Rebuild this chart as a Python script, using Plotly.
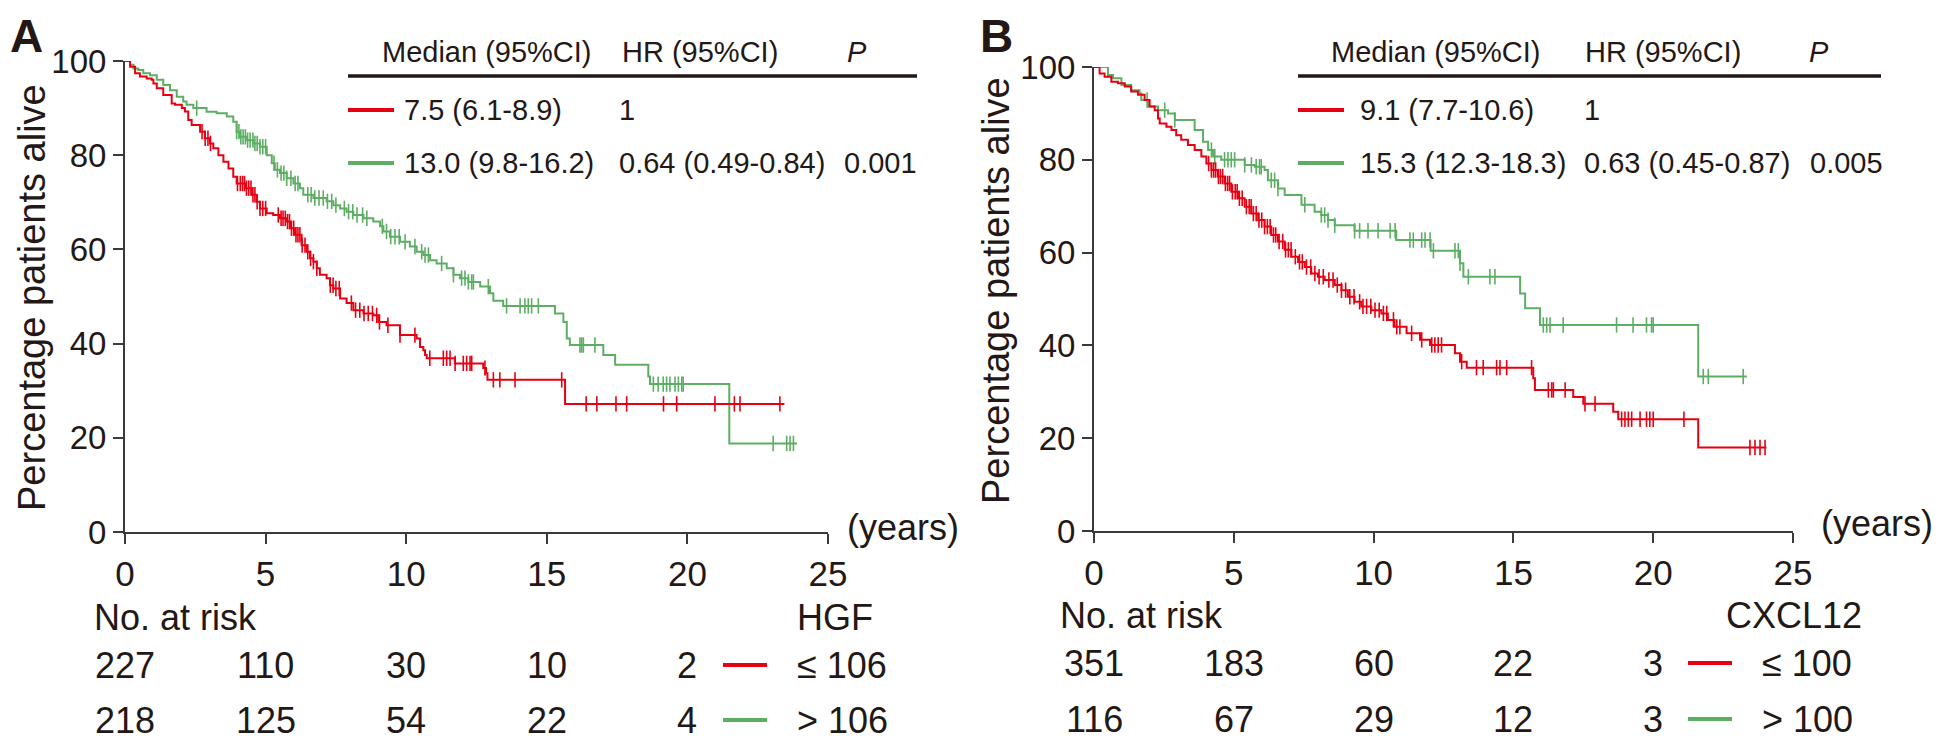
import numpy as np
import plotly.graph_objects as go

# page is 1946x742; the html body has an 8px margin, so the figure is drawn 8px in
PAGE_W, PAGE_H = 1946, 742
OFF = 8
W, H = PAGE_W - OFF, PAGE_H - OFF
RED = '#E60012'
GREEN = '#5DAE64'
INK = '#231815'
AXIS = '#3a3a3a'
FONT = 'Liberation Sans, Arial, sans-serif'

# ---- Panel A: HGF (survival %, step at each time) ----
hgf_low_t = [0, 0.18, 0.36, 0.53, 0.77, 0.95, 1.01, 1.13, 1.36, 1.66, 1.78, 2.02, 2.13, 2.25, 2.37, 2.67,
             2.84, 3.02, 3.14, 3.32, 3.50, 3.68, 3.85, 3.97, 4.27, 4.51, 4.68, 4.80, 5.04, 5.27, 5.51, 5.75,
             5.87, 6.04, 6.28, 6.46, 6.58, 6.70, 6.82, 6.93, 7.17, 7.29, 7.41, 7.65, 7.88, 8.12, 8.48, 8.83,
             9.01, 9.30, 9.78, 10.37, 10.49, 10.61, 10.67, 10.73, 11.73, 12.74, 12.84, 12.89, 15.65]
hgf_low_s = [100, 98.8, 97.4, 96.7, 96.3, 96.0, 95.2, 94.2, 92.8, 91.0, 90.7, 90.0, 89.3, 87.5, 86.4, 85.0,
             83.6, 82.5, 81.5, 80.0, 78.6, 77.2, 75.4, 74.0, 73.0, 71.6, 70.1, 68.7, 67.7, 67.3, 66.6, 65.9,
             64.5, 63.1, 60.9, 59.5, 58.1, 57.4, 56.0, 54.6, 53.9, 52.4, 51.7, 49.6, 48.6, 47.1, 46.4, 46.0,
             44.6, 43.9, 41.8, 41.1, 39.3, 38.6, 37.6, 36.9, 35.8, 34.8, 33.7, 32.3, 27.2]
hgf_low_end = 23.45
hgf_low_cens = [2.74, 2.85, 2.95, 3.04, 4.0, 4.1, 4.18, 4.25, 4.32, 4.40, 4.48, 4.55, 4.62, 4.70, 4.80, 4.90,
                5.0, 5.45, 5.55, 5.62, 5.70, 5.78, 5.85, 5.92, 6.00, 6.08, 6.15, 6.22, 6.30, 6.40, 6.50, 6.60,
                6.70, 6.82, 7.30, 7.40, 7.50, 7.62, 8.05, 8.20, 8.35, 8.50, 8.65, 8.80, 8.95, 9.05, 9.35, 9.78,
                10.31, 10.84, 11.32, 11.44, 11.56, 11.74, 12.03, 12.15, 12.27, 12.33, 12.80, 13.10, 13.33,
                13.87, 15.53, 16.40, 16.78, 17.46, 17.84, 19.15, 19.62, 20.98, 21.67, 21.87, 23.29]

hgf_high_t = [0, 0.18, 0.30, 0.47, 0.65, 0.89, 1.13, 1.36, 1.60, 1.84, 2.07, 2.19, 2.43, 2.90, 3.26, 3.62,
              3.85, 3.97, 4.09, 4.33, 4.56, 4.80, 5.04, 5.22, 5.33, 5.51, 5.75, 5.99, 6.22, 6.34, 6.70, 7.17,
              7.41, 7.65, 7.88, 8.12, 8.48, 8.83, 9.07, 9.19, 9.42, 9.78, 10.13, 10.37, 10.61, 10.85, 11.08,
              11.44, 11.68, 11.91, 12.21, 12.63, 12.98, 13.10, 13.45, 15.29, 15.59, 15.71, 15.82, 17.01,
              17.43, 18.61, 18.67, 21.49]
hgf_high_s = [100, 99.2, 98.4, 98.1, 97.4, 97.0, 96.0, 94.9, 93.8, 92.4, 91.4, 90.7, 90.0, 89.2, 88.9, 88.2,
              87.1, 85.0, 83.9, 83.2, 82.5, 81.8, 80.0, 78.3, 76.9, 76.2, 75.1, 74.0, 73.0, 71.6, 70.9, 70.2,
              69.4, 68.7, 68.0, 67.3, 66.6, 65.9, 64.9, 63.8, 62.7, 61.6, 60.6, 59.5, 58.8, 57.7, 57.0,
              56.0, 54.6, 53.9, 53.1, 52.1, 50.7, 49.1, 48.0, 46.4, 44.6, 41.1, 39.7, 37.6,
              35.5, 33.0, 31.4, 18.8]
hgf_high_end = 23.9
hgf_high_cens = [2.55, 3.97, 4.05, 4.12, 4.20, 4.28, 4.36, 4.45, 4.55, 4.62, 4.70, 4.80, 4.90, 5.00, 5.30,
                 5.42, 5.55, 5.65, 5.75, 5.90, 6.05, 6.15, 6.50, 6.62, 6.75, 6.90, 7.05, 7.20, 7.35, 7.50,
                 7.80, 7.95, 8.10, 8.25, 8.45, 8.60, 9.15, 9.30, 9.45, 9.60, 9.75, 9.96, 10.31, 10.55, 10.67,
                 10.79, 11.26, 11.68, 11.97, 12.09, 12.21, 12.33, 12.39, 12.92, 13.57, 14.05, 14.22, 14.34,
                 14.46, 14.70, 16.18, 16.24, 16.30, 16.71, 18.79, 18.96, 19.14, 19.26, 19.38, 19.56, 19.68,
                 19.80, 19.85, 23.05, 23.53, 23.65, 23.77]

# ---- Panel B: CXCL12 ----
cxcl_low_t = [0, 0.20, 0.38, 0.62, 0.86, 1.10, 1.33, 1.57, 1.81, 1.99, 2.17, 2.29, 2.35, 2.59, 2.77, 2.94,
              3.12, 3.36, 3.60, 3.84, 4.02, 4.20, 4.43, 4.67, 4.91, 5.15, 5.39, 5.63, 5.87, 6.10, 6.34, 6.58,
              6.82, 7.06, 7.30, 7.54, 7.77, 8.01, 8.25, 8.61, 8.85, 9.08, 9.32, 9.56, 9.92, 10.28, 10.51,
              10.75, 11.18, 11.66, 12.02, 12.91, 13.09, 13.33, 15.71, 15.77, 17.14, 17.50, 18.57, 18.75, 21.61]
cxcl_low_s = [100, 98.6, 97.9, 96.8, 96.5, 95.8, 94.7, 94.0, 92.9, 91.5, 90.7, 88.9, 87.8, 87.1, 86.4, 85.3,
              84.3, 83.2, 82.1, 80.7, 79.2, 77.8, 76.4, 74.9, 73.1, 71.7, 69.9, 68.4, 67.0, 65.6, 63.8, 62.4,
              60.6, 59.1, 58.0, 56.9, 55.5, 54.8, 54.1, 53.0, 51.9, 50.5, 49.4, 48.4, 47.6, 46.9, 45.5,
              44.0, 42.6, 41.2, 40.1, 38.3, 36.5, 35.2, 32.9, 30.4, 28.9, 27.4, 25.7, 24.1, 18.0]
cxcl_low_end = 24.05
cxcl_low_cens = [4.10, 4.20, 4.28, 4.35, 4.45, 4.52, 4.60, 4.70, 4.78, 4.85, 4.95, 5.05, 5.12, 5.20, 5.30,
                 5.45, 5.55, 5.62, 5.70, 5.80, 5.90, 6.00, 6.10, 6.20, 6.30, 6.42, 6.50, 6.62, 6.75, 6.85,
                 6.95, 7.05, 7.20, 7.35, 7.45, 7.60, 7.75, 7.90, 8.05, 8.20, 8.40, 8.55, 8.70, 8.85, 9.00,
                 9.15, 9.30, 9.50, 9.62, 9.75, 9.90, 10.05, 10.20, 10.35, 10.47, 10.71, 10.83, 10.94, 11.36,
                 11.72, 12.08, 12.19, 12.31, 12.43, 13.15, 13.68, 13.92, 14.40, 14.52, 14.76, 15.65, 16.25,
                 16.37, 16.43, 16.85, 17.56, 17.92, 18.87, 18.99, 19.11, 19.23, 19.53, 19.76, 19.88, 20.0,
                 21.1, 23.46, 23.64, 23.82, 24.0]

cxcl_high_t = [0, 0.50, 0.68, 0.98, 1.33, 1.63, 1.69, 1.93, 2.29, 2.65, 2.89, 3.60, 3.90, 4.08, 4.26, 4.55,
               5.39, 5.75, 6.10, 6.22, 6.58, 6.82, 7.42, 7.89, 8.13, 8.37, 8.61, 9.32, 10.81, 12.04, 13.09,
               13.21, 15.24, 15.42, 15.95, 21.61]
cxcl_high_s = [100, 98.3, 97.6, 96.1, 95.0, 94.3, 92.9, 91.5, 90.7, 90.0, 88.6, 86.4, 83.9, 82.1, 80.7, 80.0,
               78.9, 78.5, 77.8, 75.6, 73.8, 72.4, 70.3, 68.8, 68.1, 67.0, 65.9, 64.7, 62.7, 60.4, 57.7,
               54.8, 51.2, 48.0, 44.4, 33.3]
cxcl_high_end = 23.35
cxcl_high_cens = [1.90, 2.53, 2.89, 4.20, 4.32, 4.67, 4.79, 4.91, 5.03, 5.39, 5.63, 5.80, 5.92, 5.98, 6.34,
                  6.46, 6.58, 7.54, 8.13, 8.25, 8.37, 8.61, 9.32, 9.50, 9.80, 10.16, 10.59, 10.77, 11.30,
                  11.42, 11.72, 11.84, 12.02, 12.14, 12.91, 13.03, 13.09, 13.39, 14.16, 14.34, 16.07, 16.19,
                  16.31, 16.78, 18.69, 19.28, 19.76, 19.94, 20.0, 21.79, 21.97, 23.22]

# ---- tables ----
table_head = ['Median (95%CI)', 'HR (95%CI)', '<i>P</i>']
median_A = ['7.5 (6.1-8.9)', '13.0 (9.8-16.2)']
hr_A = ['1', '0.64 (0.49-0.84)']
p_A = ['', '0.001']
median_B = ['9.1 (7.7-10.6)', '15.3 (12.3-18.3)']
hr_B = ['1', '0.63 (0.45-0.87)']
p_B = ['', '0.005']

risk_times = [0, 5, 10, 15, 20]
risk_A_low = [227, 110, 30, 10, 2]
risk_A_high = [218, 125, 54, 22, 4]
risk_B_low = [351, 183, 60, 22, 3]
risk_B_high = [116, 67, 29, 12, 3]
groups_A = ['\u2264 106', '> 106']
groups_B = ['\u2264 100', '> 100']


def px(x):
    # page pixel -> paper fraction
    return (x - OFF) / W


def py(y):
    return 1 - (y - OFF) / H


def step_at(t, s, c):
    idx = np.searchsorted(np.array(t), np.array(c), side='right') - 1
    return list(np.array(s)[idx])


fig = go.Figure()


def add_curve(t, s, t_end, cens, color, xa, ya):
    fig.add_trace(go.Scatter(x=list(t) + [t_end], y=list(s) + [s[-1]], mode='lines',
                             line=dict(color=color, width=2, shape='hv'),
                             xaxis=xa, yaxis=ya, showlegend=False, hoverinfo='skip'))
    fig.add_trace(go.Scatter(x=cens, y=step_at(t, s, cens), mode='markers',
                             marker=dict(symbol='line-ns', size=11, line=dict(color=color, width=1.6)),
                             xaxis=xa, yaxis=ya, showlegend=False, hoverinfo='skip', cliponaxis=False))


add_curve(hgf_high_t, hgf_high_s, hgf_high_end, hgf_high_cens, GREEN, 'x', 'y')
add_curve(hgf_low_t, hgf_low_s, hgf_low_end, hgf_low_cens, RED, 'x', 'y')
add_curve(cxcl_high_t, cxcl_high_s, cxcl_high_end, cxcl_high_cens, GREEN, 'x2', 'y2')
add_curve(cxcl_low_t, cxcl_low_s, cxcl_low_end, cxcl_low_cens, RED, 'x2', 'y2')

xax = dict(range=[0, 25], tickvals=[0, 5, 10, 15, 20, 25], ticks='outside', ticklen=10, tickwidth=2,
           tickcolor=AXIS, showline=True, linewidth=2, linecolor=AXIS, showgrid=False, zeroline=False,
           tickfont=dict(size=35, color=INK, family=FONT), automargin=False)
yax = dict(range=[0, 100], tickvals=[0, 20, 40, 60, 80, 100], ticks='outside', ticklen=10, tickwidth=2,
           tickcolor=AXIS, showline=True, linewidth=2, linecolor=AXIS, showgrid=False, zeroline=False,
           tickfont=dict(size=33, color=INK, family=FONT), automargin=False)

fig.update_layout(
    width=W, height=H, margin=dict(l=0, r=0, t=0, b=0, pad=0, autoexpand=False),
    paper_bgcolor='white', plot_bgcolor='white', showlegend=False,
    font=dict(family=FONT, color=INK),
    xaxis=dict(xax, domain=[px(125), px(828)], anchor='y'),
    yaxis=dict(yax, domain=[py(532), py(61)], anchor='x'),
    xaxis2=dict(xax, domain=[px(1094), px(1793)], anchor='y2'),
    yaxis2=dict(yax, domain=[py(531), py(67)], anchor='x2'),
)

ann = []
shapes = []


def text(x, y, s, size, anchor='left', yanchor='middle', **kw):
    ann.append(dict(x=px(x), y=py(y), xref='paper', yref='paper', text=s, showarrow=False,
                    xanchor=anchor, yanchor=yanchor, font=dict(size=size, color=INK, family=FONT), **kw))


def hline(x0, x1, y, color, width):
    shapes.append(dict(type='line', xref='paper', yref='paper', x0=px(x0), x1=px(x1), y0=py(y), y1=py(y),
                       line=dict(color=color, width=width)))


def panel(label, lx, ycx, ycy, tab_x, med, hr, p, line_x0, line_x1, years_x, years_y,
          xref, risk_rows, risk_y, nar_x, nar_y, gene, gene_x, samp_x, groups):
    text(lx, OFF, '<b>%s</b>' % label, 46, yanchor='top')
    text(ycx, ycy, 'Percentage patients alive', 38, anchor='center', textangle=-90)
    # summary table
    for hx, h in zip(tab_x[:3], table_head):
        text(hx, 52, h, 29)
    hline(line_x0, line_x1, 76, INK, 3.5)
    for i, (color, ry) in enumerate(zip([RED, GREEN], [110, 163])):
        hline(line_x0, line_x0 + 46, ry, color, 4)
        text(tab_x[3], ry, med[i], 29)
        text(tab_x[4], ry, hr[i], 29)
        text(tab_x[5], ry, p[i], 29)
    text(years_x, years_y, '(years)', 36)
    # numbers at risk
    text(nar_x, nar_y, 'No. at risk', 36)
    text(gene_x, nar_y, gene, 36)
    for row, color, ry, g in zip(risk_rows, [RED, GREEN], risk_y, groups):
        for t, n in zip(risk_times, row):
            ann.append(dict(x=t, y=py(ry), xref=xref, yref='paper', text=str(n), showarrow=False,
                            xanchor='center', yanchor='middle', font=dict(size=36, color=INK, family=FONT)))
        hline(samp_x, samp_x + 44, ry, color, 4)
        text(samp_x + 72, ry, g, 36)


panel('A', OFF, 32, 298, [380, 620, 845, 402, 617, 842], median_A, hr_A, p_A, 348, 917, 845, 527,
      'x', [risk_A_low, risk_A_high], [665, 720], 92, 617, 'HGF', 795, 723, groups_A)
panel('B', 978, 996, 290, [1329, 1583, 1807, 1358, 1582, 1808], median_B, hr_B, p_B, 1298, 1881, 1819, 523,
      'x2', [risk_B_low, risk_B_high], [663, 719], 1058, 615, 'CXCL12', 1724, 1688, groups_B)

fig.update_layout(annotations=ann, shapes=shapes)
fig.write_html('out.html')
